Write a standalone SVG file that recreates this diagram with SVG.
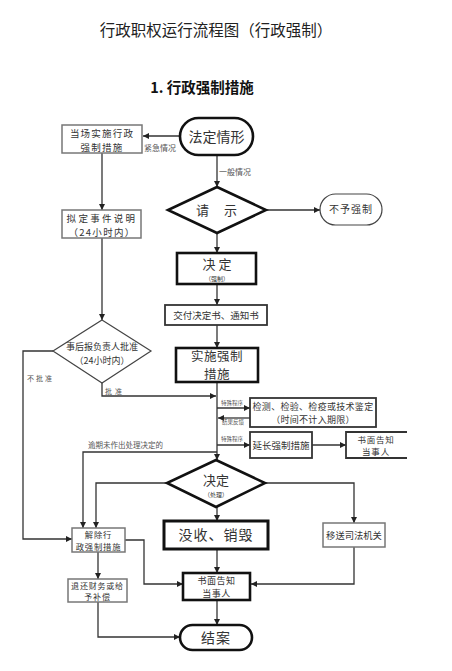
<svg xmlns="http://www.w3.org/2000/svg" width="452" height="671" viewBox="0 0 452 671">
<defs>
<style>
text{font-family:"Noto Sans CJK SC","Noto Sans CJK JP",sans-serif;fill:#333}
.c{text-anchor:middle}
.thin{fill:#fff;stroke:#777;stroke-width:1.5}
.mid{fill:#fff;stroke:#333;stroke-width:1.8}
.thick{fill:#fff;stroke:#111;stroke-width:2.6}
.ln{fill:none;stroke:#333;stroke-width:1.3}
.lbl{font-size:7.5px;fill:#555}
.tiny{font-size:5.5px;fill:#555}
</style>
<marker id="ah" markerUnits="userSpaceOnUse" markerWidth="7" markerHeight="7" refX="6" refY="3" orient="auto">
<path d="M0,0 L6,3 L0,6 z" fill="#222"/>
</marker>
</defs>
<rect width="452" height="671" fill="#fff"/>
<text class="c" x="216" y="36" style="font-size:15.5px;fill:#222">行政职权运行流程图（行政强制）</text>
<text class="c" x="202" y="93" style="font-size:14.5px;font-weight:bold;fill:#111">1. 行政强制措施</text>

<g id="connectors">
<path class="ln" marker-end="url(#ah)" d="M180,136 L143,136"/>
<path class="ln" marker-end="url(#ah)" d="M217,155 L217,187"/>
<path class="ln" marker-end="url(#ah)" d="M266,210 L320,210"/>
<path class="ln" marker-end="url(#ah)" d="M217,233 L217,253"/>
<path class="ln" marker-end="url(#ah)" d="M217,284 L217,305"/>
<path class="ln" marker-end="url(#ah)" d="M217,325 L217,348"/>
<path class="ln" marker-end="url(#ah)" d="M102,153 L102,210"/>
<path class="ln" marker-end="url(#ah)" d="M102,238 L102,320"/>
<path class="ln" marker-end="url(#ah)" d="M53,351 L23,351 L23,539 L72,539"/>
<path class="ln" marker-end="url(#ah)" d="M102,383 L102,396 L216,396"/>
<path class="ln" marker-end="url(#ah)" d="M217,382 L217,460"/>
<path class="ln" marker-end="url(#ah)" d="M217,408 L250,408"/>
<path class="ln" marker-end="url(#ah)" d="M250,418 L218,418"/>
<path class="ln" marker-end="url(#ah)" d="M217,445 L250,445"/>
<path class="ln" marker-end="url(#ah)" d="M312,445 L346,445"/>
<path class="ln" marker-end="url(#ah)" d="M217,452 L83,452 L83,528"/>
<path class="ln" marker-end="url(#ah)" d="M167,483 L96,483 L96,528"/>
<path class="ln" marker-end="url(#ah)" d="M265,483 L354,483 L354,523"/>
<path class="ln" marker-end="url(#ah)" d="M217,507 L217,521"/>
<path class="ln" marker-end="url(#ah)" d="M217,549 L217,573"/>
<path class="ln" marker-end="url(#ah)" d="M125,540 L144,540 L144,584 L183,584"/>
<path class="ln" marker-end="url(#ah)" d="M354,547 L354,584 L251,584"/>
<path class="ln" marker-end="url(#ah)" d="M98,552 L98,579"/>
<path class="ln" marker-end="url(#ah)" d="M98,602 L98,637 L180,637"/>
<path class="ln" marker-end="url(#ah)" d="M217,600 L217,625"/>
<text class="lbl" x="144" y="151" style="font-size:8px">紧急情况</text>
<text class="lbl" x="219" y="175" style="font-size:8px">一般情况</text>
<text class="lbl" x="27" y="381" style="font-size:7px;letter-spacing:2px">不批准</text>
<text class="lbl" x="105" y="394" style="font-size:7px;letter-spacing:3px">批准</text>
<text class="tiny" x="221" y="405">特殊程序</text>
<text class="tiny" x="222" y="424">结果反馈</text>
<text class="tiny" x="221" y="441">特殊程序</text>
<text class="lbl" x="88" y="448">逾期未作出处理决定的</text>
</g>

<g id="n-dangchang">
<rect class="thin" x="62" y="125" width="80" height="28"/>
<text class="c" style="font-size:9.5px;letter-spacing:1.2px"><tspan x="102" y="136.5">当场实施行政</tspan><tspan x="102" y="150.5">强制措施</tspan></text>
</g>
<g id="n-fadingqingxing">
<rect class="thick" x="180" y="118" width="73" height="37" rx="18.5"/>
<text class="c" x="216.5" y="142" style="font-size:14px">法定情形</text>
</g>
<g id="n-qingshi">
<polygon class="thick" points="217,187 266,210 217,233 168,210"/>
<text class="c" x="217" y="215" style="font-size:13px;letter-spacing:1px">请　示</text>
</g>
<g id="n-buyu">
<rect x="320" y="194" width="62" height="31" rx="15.5" style="fill:#fff;stroke:#444;stroke-width:1.2"/>
<text class="c" x="351" y="213" style="font-size:10px;letter-spacing:1px">不予强制</text>
</g>
<g id="n-niding">
<rect class="thin" x="62" y="210" width="79" height="28"/>
<text class="c" style="font-size:9.5px"><tspan x="102" y="221.5" style="letter-spacing:2.3px">拟定事件说明</tspan><tspan x="102" y="235.5" style="letter-spacing:1.3px">（24小时内）</tspan></text>
</g>
<g id="n-jueding1">
<rect class="thick" x="177" y="253" width="79" height="31"/>
<text class="c"><tspan x="217" y="269" style="font-size:13px">决 定</tspan><tspan x="217" y="281" style="font-size:6px">（强制）</tspan></text>
</g>
<g id="n-jiaofu">
<rect class="mid" x="165" y="305" width="102" height="20"/>
<text class="c" x="216" y="318.5" style="font-size:9.5px">交付决定书、通知书</text>
</g>
<g id="n-shihou">
<polygon points="102,320 151,351 102,383 53,351" style="fill:#fff;stroke:#444;stroke-width:1.2"/>
<text class="c" style="font-size:9px"><tspan x="102" y="350">事后报负责人批准</tspan><tspan x="102" y="363.5">（24小时内）</tspan></text>
</g>
<g id="n-shishi">
<rect class="thick" x="176" y="348" width="82" height="34"/>
<text class="c" style="font-size:12.5px;letter-spacing:0.5px"><tspan x="217" y="361">实施强制</tspan><tspan x="217" y="379.2">措施</tspan></text>
</g>
<g id="n-jiance">
<rect class="mid" x="250" y="398" width="126" height="29"/>
<text class="c" style="font-size:9px;letter-spacing:0.3px"><tspan x="313" y="409.5">检测、检验、检疫或技术鉴定</tspan><tspan x="313" y="422.8">（时间不计入期限）</tspan></text>
</g>
<g id="n-yanchang">
<rect class="mid" x="250" y="432" width="62" height="26"/>
<text class="c" x="281" y="448.5" style="font-size:9.5px">延长强制措施</text>
</g>
<g id="n-shumian1">
<path class="mid" d="M407,432 L346,432 L346,458 L407,458" style="fill:none"/>
<text class="c" style="font-size:8.5px;letter-spacing:0.8px"><tspan x="376" y="442.5">书面告知</tspan><tspan x="376" y="455">当事人</tspan></text>
</g>
<g id="n-jueding2">
<polygon class="thick" points="216,460 265,483 216,507 167,483"/>
<text class="c"><tspan x="216" y="485" style="font-size:13px">决定</tspan><tspan x="216" y="497" style="font-size:6px">（处理）</tspan></text>
</g>
<g id="n-jiechu">
<rect class="thin" x="72" y="528" width="53" height="24"/>
<text class="c" style="font-size:8.3px;letter-spacing:0.8px"><tspan x="98.5" y="538">解除行</tspan><tspan x="98.5" y="550.1">政强制措施</tspan></text>
</g>
<g id="n-moshou">
<rect class="thick" x="164" y="521" width="104" height="28" style="stroke-width:3"/>
<text class="c" x="216" y="540" style="font-size:14px;letter-spacing:1px">没收、销毁</text>
</g>
<g id="n-yisong">
<rect class="thin" x="323" y="523" width="62" height="24"/>
<text class="c" x="354" y="538.5" style="font-size:9.3px">移送司法机关</text>
</g>
<g id="n-tuihuan">
<rect class="thin" x="68" y="579" width="59" height="23"/>
<text class="c" style="font-size:8px;letter-spacing:0.8px"><tspan x="97.5" y="588.5">退还财务或给</tspan><tspan x="97.5" y="600.2">予补偿</tspan></text>
</g>
<g id="n-shumian2">
<rect class="thick" x="183" y="573" width="67" height="27"/>
<text class="c" style="font-size:9px;letter-spacing:0.5px"><tspan x="216.5" y="584">书面告知</tspan><tspan x="216.5" y="597.2">当事人</tspan></text>
</g>
<g id="n-jiean">
<rect class="thick" x="180" y="625" width="72" height="25" rx="12.5"/>
<text class="c" x="216" y="642.5" style="font-size:14px;letter-spacing:1px">结案</text>
</g>
</svg>
